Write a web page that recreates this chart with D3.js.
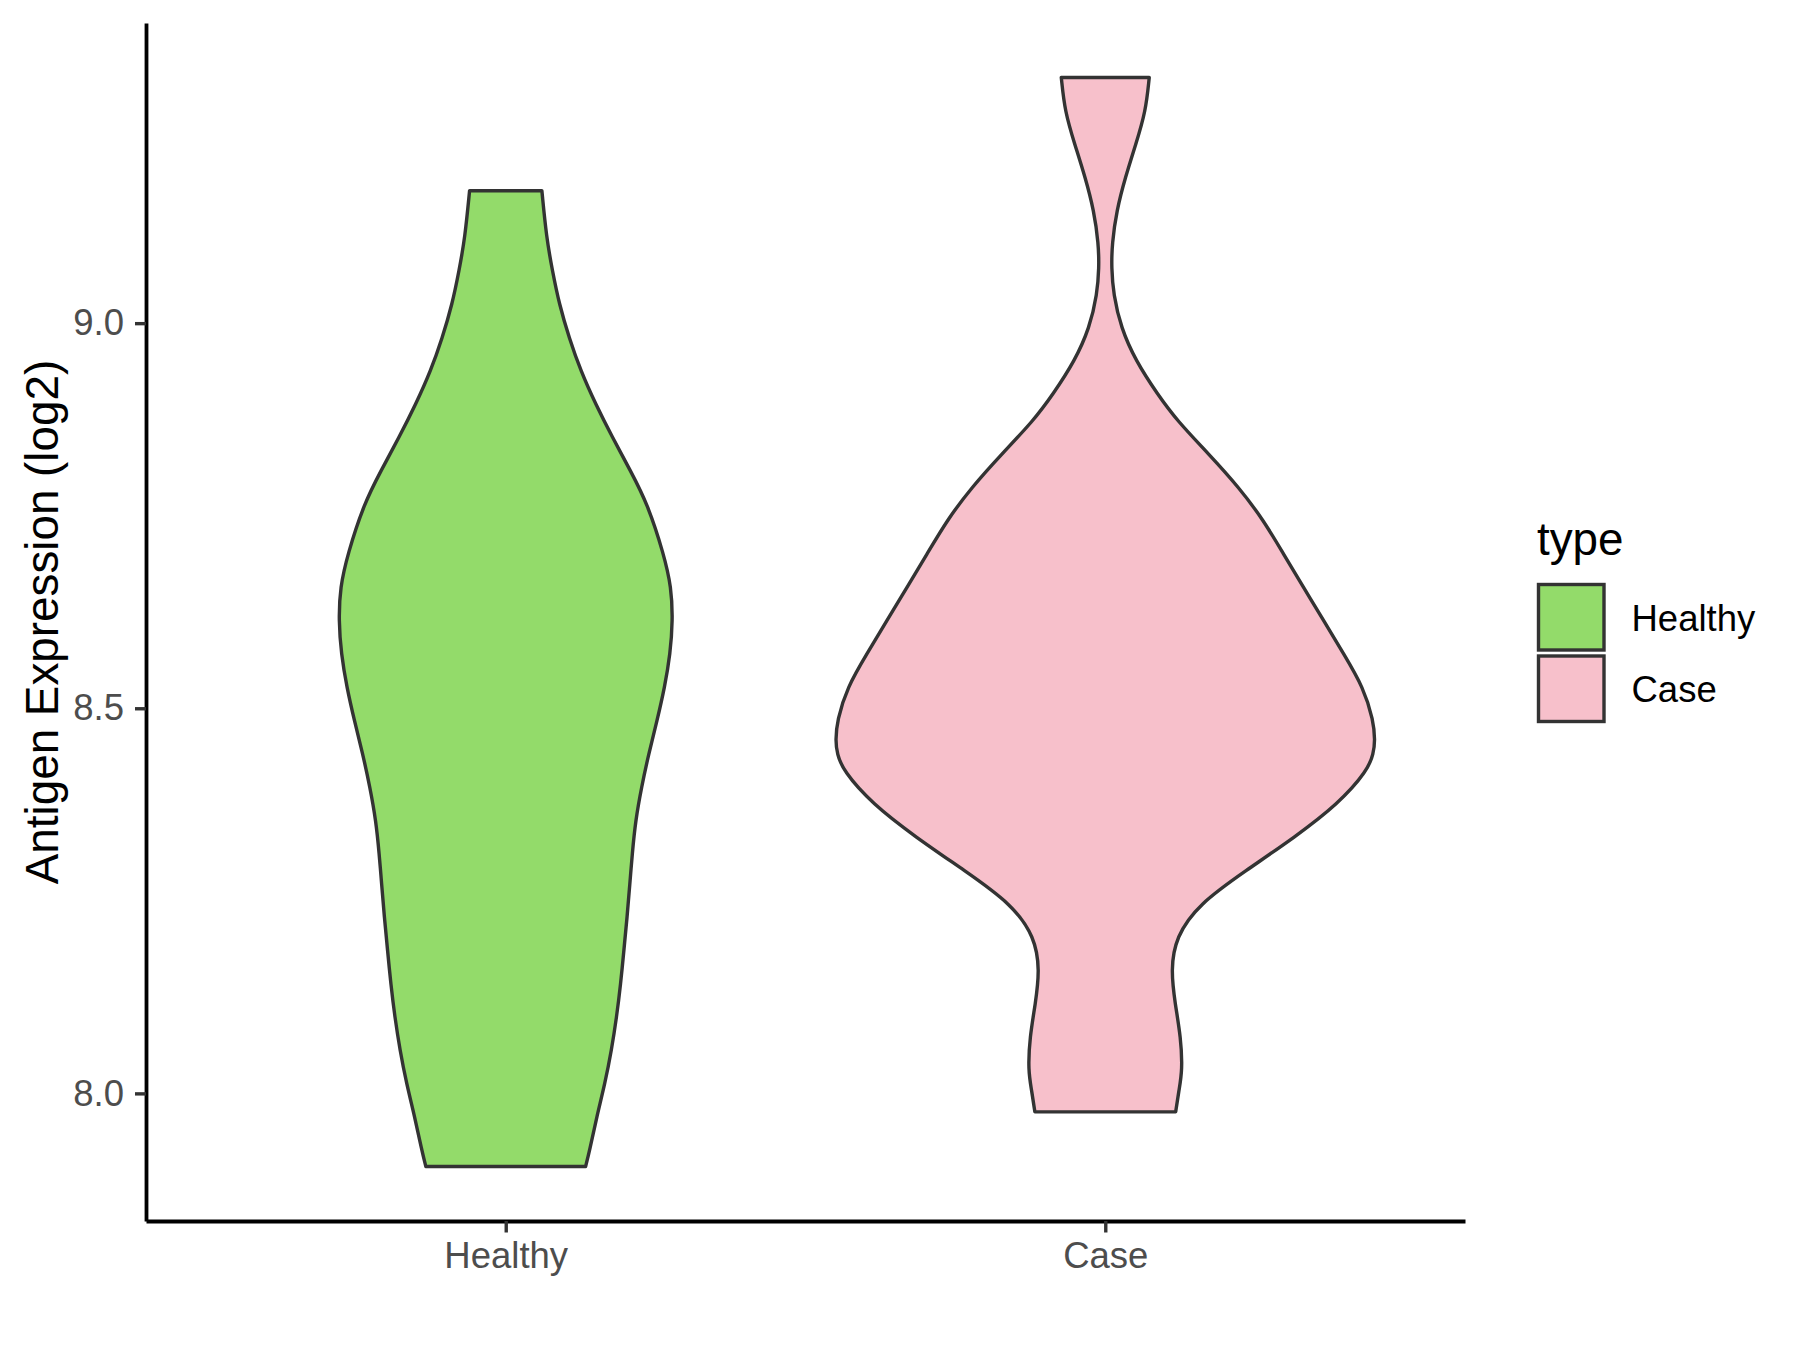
<!DOCTYPE html>
<html>
<head>
<meta charset="utf-8">
<script src="https://cdn.jsdelivr.net/npm/d3@7"></script>
<style>
  body { margin: 0; background: #fff; }
  text { font-family: "Liberation Sans", Arial, sans-serif; }
</style>
</head>
<body>
<script>
// Chart size
var width = 1800;
var height = 1350;

// Groups shown on the x axis
var categories = ["Healthy", "Case"];

// Violin outlines: expression value and relative density
var healthyValues = [9.172, 9.111, 9.068, 9.025, 8.981, 8.938, 8.895, 8.852, 8.808, 8.765,
    8.700, 8.657, 8.614, 8.571, 8.527, 8.484, 8.441, 8.397, 8.354, 8.311,
    8.272, 8.229, 8.186, 8.142, 8.099, 8.056, 8.013, 7.969, 7.926, 7.905];
var healthyDensity = [0.134, 0.151, 0.173, 0.198, 0.235, 0.278, 0.333, 0.395, 0.463, 0.526,
    0.586, 0.614, 0.619, 0.610, 0.589, 0.561, 0.530, 0.503, 0.481, 0.469,
    0.460, 0.450, 0.438, 0.426, 0.411, 0.392, 0.368, 0.337, 0.311, 0.296];

var caseValues = [9.319, 9.275, 9.232, 9.189, 9.146, 9.103, 9.072, 9.038, 8.994, 8.951,
    8.908, 8.873, 8.830, 8.787, 8.744, 8.700, 8.657, 8.614, 8.571, 8.527, 8.484,
    8.458, 8.441, 8.419, 8.376, 8.333, 8.289, 8.246, 8.203, 8.160, 8.116, 8.073,
    8.030, 8.004, 7.976];
var caseDensity = [0.163, 0.150, 0.113, 0.074, 0.042, 0.025, 0.023, 0.030, 0.058, 0.113,
    0.193, 0.267, 0.384, 0.495, 0.587, 0.661, 0.735, 0.809, 0.883, 0.957, 0.994,
    1.000, 0.994, 0.972, 0.864, 0.704, 0.520, 0.347, 0.261, 0.243, 0.259, 0.280,
    0.286, 0.273, 0.261];

// Y axis tick values
var yTicks = [8.0, 8.5, 9.0];

var fills = ["#93DB6A", "#F7C0CB"];

// Panel edges
var panelLeft = 146, panelRight = 1465, panelTop = 23, panelBottom = 1221;

var svg = d3.select("body")
    .append("svg")
    .attr("width", width)
    .attr("height", height);

svg.append("rect").attr("width", width).attr("height", height).attr("fill", "#fff");

var groups = [
    { name: categories[0], values: healthyValues, density: healthyDensity },
    { name: categories[1], values: caseValues, density: caseDensity }
];

// y domain = data range expanded by 5% (like ggplot)
var allValues = healthyValues.concat(caseValues);
var ext = d3.extent(allValues);
var pad = (ext[1] - ext[0]) * 0.05;

var y = d3.scaleLinear()
    .domain([ext[0] - pad, ext[1] + pad])
    .range([panelBottom, panelTop]);

var x = d3.scalePoint()
    .domain(categories)
    .range([panelLeft, panelRight])
    .padding(0.6);

// Max half width = 0.45 of the spacing between groups
var w = d3.scaleLinear()
    .domain([0, 1])
    .range([0, x.step() * 0.45]);

// Draw the violins
groups.forEach(function (g, i) {
    var cx = x(g.name);
    var pts = g.values.map(function (v, j) { return { v: v, d: g.density[j] }; });
    var area = d3.area()
        .y(function (d) { return y(d.v); })
        .x0(function (d) { return cx - w(d.d); })
        .x1(function (d) { return cx + w(d.d); })
        .curve(d3.curveBasis);

    svg.append("path")
        .datum(pts)
        .attr("d", area)
        .attr("fill", fills[i])
        .attr("stroke", "#333333")
        .attr("stroke-width", 3.4)
        .attr("stroke-linejoin", "round");
});

// Y axis
var yAxis = svg.append("g")
    .attr("transform", "translate(" + panelLeft + ",0)")
    .call(d3.axisLeft(y).tickValues(yTicks).tickFormat(d3.format(".1f"))
        .tickSize(11).tickSizeOuter(0).tickPadding(11));

// X axis
var xAxis = svg.append("g")
    .attr("transform", "translate(0," + panelBottom + ")")
    .call(d3.axisBottom(x).tickSize(11.5).tickSizeOuter(0).tickPadding(9.5));

[yAxis, xAxis].forEach(function (ax) {
    ax.select(".domain").attr("stroke", "#000").attr("stroke-width", 3.8);
    ax.selectAll(".tick line").attr("stroke", "#333333").attr("stroke-width", 3.4);
    ax.selectAll(".tick text")
        .attr("fill", "#4D4D4D")
        .style("font-size", "36.5px")
        .style("font-family", '"Liberation Sans", Arial, sans-serif');
});

// Y axis title
svg.append("text")
    .attr("transform", "translate(58," + ((panelTop + panelBottom) / 2) + ") rotate(-90)")
    .attr("text-anchor", "middle")
    .style("font-size", "45.8px")
    .attr("fill", "#000")
    .text("Antigen Expression (log2)");

// Legend
var legend = svg.append("g");

legend.append("text")
    .attr("x", 1537)
    .attr("y", 555)
    .style("font-size", "45.8px")
    .attr("fill", "#000")
    .text("type");

categories.forEach(function (c, i) {
    var ky = 583 + i * 71.5;
    legend.append("rect")
        .attr("x", 1538.5)
        .attr("y", ky + 1.5)
        .attr("width", 65.5)
        .attr("height", 65.5)
        .attr("fill", fills[i])
        .attr("stroke", "#333333")
        .attr("stroke-width", 3.4);
    legend.append("text")
        .attr("x", 1631.5)
        .attr("y", ky + 47.5)
        .style("font-size", "36.5px")
        .attr("fill", "#000")
        .text(c);
});
</script>
</body>
</html>
